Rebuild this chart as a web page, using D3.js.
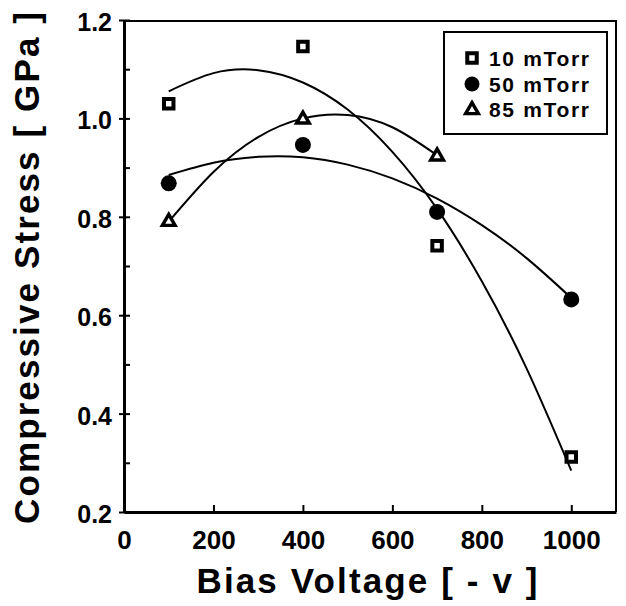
<!DOCTYPE html>
<html>
<head>
<meta charset="utf-8">
<script src="https://cdn.jsdelivr.net/npm/d3@7"></script>
<style>
  html, body { margin: 0; padding: 0; background: #fff; }
  svg { display: block; }
  text { font-family: "Liberation Sans", Arial, Helvetica, sans-serif; font-weight: bold; fill: #000; }
</style>
</head>
<body>
<svg id="chart" width="626" height="606"></svg>
<script>
// Measured compressive stress at each bias voltage
const biasVoltage = [100, 400, 700, 1000];
const stress10 = [1.03, 1.146, 0.741, 0.312];
const stress50 = [0.868, 0.946, 0.81, 0.632];
const stress85 = [0.792, 1.0, 0.925];

// Fitted trend lines, sampled along the bias axis
const fitVoltage = [100, 200, 300, 400, 500, 600, 700, 800, 900, 1000];
const fit10 = [1.055, 1.092, 1.098, 1.073, 1.018, 0.932, 0.816, 0.669, 0.492, 0.284];
const fit50 = [0.885, 0.910, 0.922, 0.921, 0.906, 0.878, 0.837, 0.783, 0.716, 0.635];
const fitVoltage85 = [100, 200, 300, 400, 500, 600, 700];
const fit85 = [0.790, 0.891, 0.962, 1.000, 1.007, 0.982, 0.925];

const xTicks = [0, 200, 400, 600, 800, 1000];
const yTicks = [0.2, 0.4, 0.6, 0.8, 1.0, 1.2];
const yMinorTicks = [0.3, 0.5, 0.7, 0.9, 1.1];

const seriesNames = ["10 mTorr", "50 mTorr", "85 mTorr"];

const svg = d3.select("#chart");
const plotLeft = 124, plotRight = 616, plotTop = 20, plotBottom = 512;

const x = d3.scaleLinear().domain([0, 1100]).range([plotLeft, plotRight]);
const y = d3.scaleLinear().domain([0.2, 1.2]).range([plotBottom, plotTop]);

// Frame
svg.append("line").attr("x1", plotLeft).attr("x2", plotRight).attr("y1", plotTop + 1).attr("y2", plotTop + 1)
  .attr("stroke", "#000").attr("stroke-width", 2);
svg.append("line").attr("x1", plotRight).attr("x2", plotRight).attr("y1", plotTop).attr("y2", plotBottom)
  .attr("stroke", "#000").attr("stroke-width", 2);

// Y axis: labels with short outward ticks
const yAxis = svg.append("g").attr("transform", `translate(${plotLeft},0)`)
  .call(d3.axisLeft(y).tickValues(yTicks).tickFormat(d3.format(".1f"))
    .tickSizeInner(5).tickSizeOuter(0).tickPadding(7));
yAxis.selectAll("text").attr("font-size", 25).attr("dy", "0.42em")
  .style("font-family", "'Liberation Sans', Arial, sans-serif").style("font-weight", "bold");
// inward ticks, major and minor
svg.append("g").attr("transform", `translate(${plotLeft},0)`)
  .call(d3.axisLeft(y).tickValues(yTicks.concat(yMinorTicks)).tickFormat("")
    .tickSizeInner(-6).tickSizeOuter(0))
  .call(g => g.select(".domain").remove());

// X axis: inward ticks
const xAxis = svg.append("g").attr("transform", `translate(0,${plotBottom})`)
  .call(d3.axisBottom(x).tickValues(xTicks).tickFormat(d3.format("d"))
    .tickSizeInner(-7).tickSizeOuter(0).tickPadding(19));
xAxis.selectAll("text").attr("font-size", 26)
  .style("font-family", "'Liberation Sans', Arial, sans-serif").style("font-weight", "bold");

svg.selectAll(".tick line").attr("stroke", "#000").attr("stroke-width", 2);
svg.selectAll(".domain").attr("stroke", "#000").attr("stroke-width", 3);

// Axis titles
svg.append("text")
  .attr("transform", "translate(39,268) rotate(-90)")
  .attr("text-anchor", "middle").attr("font-size", 35)
  .attr("textLength", 512).attr("lengthAdjust", "spacing")
  .text("Compressive Stress [ GPa ]");
svg.append("text")
  .attr("x", 367).attr("y", 593)
  .attr("text-anchor", "middle").attr("font-size", 35)
  .attr("textLength", 341).attr("lengthAdjust", "spacing")
  .text("Bias Voltage [ - v ]");

// Fit curves
const line = d3.line().x(d => x(d[0])).y(d => y(d[1])).curve(d3.curveNatural);
const curves = [
  d3.zip(fitVoltage, fit10),
  d3.zip(fitVoltage, fit50),
  d3.zip(fitVoltage85, fit85)
];
svg.append("g").selectAll("path").data(curves).join("path")
  .attr("d", line).attr("fill", "none").attr("stroke", "#000").attr("stroke-width", 2);

// Markers
const square = d3.symbol().type(d3.symbolSquare).size(90);
const triangle = d3.symbol().type(d3.symbolTriangle).size(70);

svg.append("g").selectAll("path").data(d3.zip(biasVoltage, stress10)).join("path")
  .attr("d", square)
  .attr("transform", d => `translate(${x(d[0])},${y(d[1])})`)
  .attr("fill", "#fff").attr("stroke", "#000").attr("stroke-width", 4);

svg.append("g").selectAll("circle").data(d3.zip(biasVoltage, stress50)).join("circle")
  .attr("cx", d => x(d[0])).attr("cy", d => y(d[1])).attr("r", 8).attr("fill", "#000");

svg.append("g").selectAll("path").data(d3.zip(biasVoltage.slice(0, 3), stress85)).join("path")
  .attr("d", triangle)
  .attr("transform", d => `translate(${x(d[0])},${y(d[1]) + 1})`)
  .attr("fill", "#fff").attr("stroke", "#000").attr("stroke-width", 3.4).attr("stroke-linejoin", "miter");

// Legend
const legend = svg.append("g");
legend.append("rect").attr("x", 444).attr("y", 32).attr("width", 163).attr("height", 102)
  .attr("fill", "#fff").attr("stroke", "#000").attr("stroke-width", 2);
const rowY = [58, 84, 109];
legend.append("path").attr("d", square).attr("transform", `translate(472,${rowY[0]})`)
  .attr("fill", "#fff").attr("stroke", "#000").attr("stroke-width", 4);
legend.append("circle").attr("cx", 472).attr("cy", rowY[1]).attr("r", 7.5).attr("fill", "#000");
legend.append("path").attr("d", triangle).attr("transform", `translate(472,${rowY[2] + 1})`)
  .attr("fill", "#fff").attr("stroke", "#000").attr("stroke-width", 3.4);
legend.selectAll("text.lbl").data(seriesNames).join("text").attr("class", "lbl")
  .attr("x", 489).attr("y", (d, i) => rowY[i] + 8)
  .attr("font-size", 21).attr("textLength", 100).attr("lengthAdjust", "spacing")
  .text(d => d);
</script>
</body>
</html>
